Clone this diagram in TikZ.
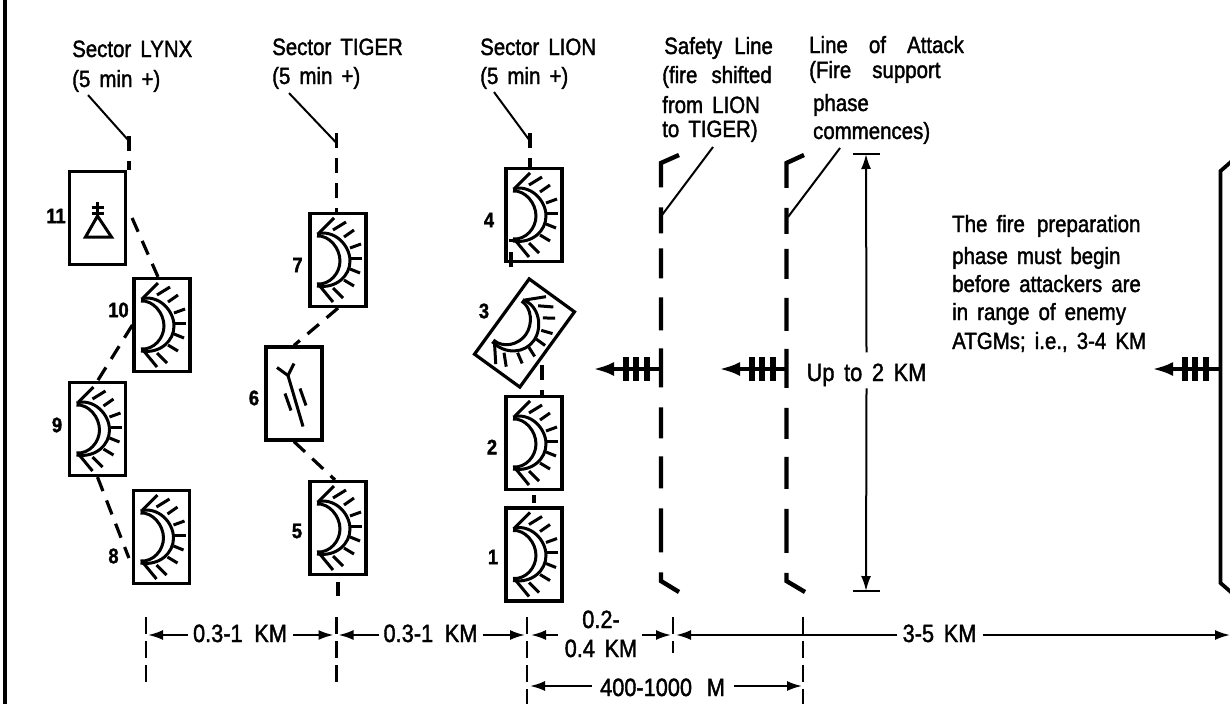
\documentclass[tikz,border=0pt]{standalone}
\usepackage{xcolor}
\usepackage{fontspec}
\setmainfont[FakeStretch=0.87,WordSpace=1.6,FakeBold=1.6]{Liberation Sans}
\usepackage{tikz}
\usetikzlibrary{arrows.meta,calc}

\begin{document}
\begin{tikzpicture}[
    x=1pt, y=-1pt,
    txt/.style={anchor=base west, inner sep=0pt, align=left, font=\fontsize{23.5}{29}\selectfont},
    dimtxt/.style={anchor=base, inner sep=0pt, align=center, font=\fontsize{25}{29}\selectfont},
    numtxt/.style={inner sep=0pt, font=\fontsize{21}{24}\selectfont\bfseries},
    posbox/.style={draw, line width=3.2pt, minimum width=56pt, minimum height=93pt, inner sep=0pt},
    sym/.style={line width=3pt},
    leader/.style={line width=2pt},
    dashline/.style={line width=3.2pt, dash pattern=on 15pt off 10pt},
    tickline/.style={line width=2.2pt, dash pattern=on 17pt off 7pt},
    fireline/.style={line width=4.4pt, line join=miter, dash pattern=on 44pt off 20pt on 26pt off 15pt on 30pt off 19pt on 33pt off 18pt on 39pt off 20pt on 31pt off 18pt on 32pt off 20pt on 44pt off 20pt},
    firearrow/.style={line width=4.2pt, -{Latex[length=21pt,width=14pt]}},
    dimarrow/.style={line width=2pt, -{Latex[length=15pt,width=10pt]}},
    bunker/.pic={
        \draw[sym] (-21,-24) .. controls (-9,-25) and (2,-12) .. (2,1) .. controls (2,13) and (-8,25) .. (-21,24);
        \draw[sym] (-21,-26) .. controls (-4,-31) and (12,-15) .. (12,1) .. controls (12,16) and (-2,29) .. (-21,26);
        \draw[sym] (-19,-27) -- (-4,-42);
        \draw[sym] (-5,-30) -- (8,-38);
        \draw[sym] (6,-23) -- (16,-30);
        \draw[sym] (12,-12) -- (23,-16);
        \draw[sym] (13,-2) -- (24,-2);
        \draw[sym] (12,9) -- (22,13);
        \draw[sym] (6,20) -- (16,26);
        \draw[sym] (-5,28) -- (5,38);
        \draw[sym] (-19,25) -- (-5,42);
    },
    firebars/.pic={
        \draw[line width=5.4pt] (-35,-12) -- (-35,12);
        \draw[line width=5.4pt] (-25,-12) -- (-25,12);
        \draw[line width=5.4pt] (-14,-12) -- (-14,12);
    },
]
\useasboundingbox (0,0) rectangle (1230,704);
% page rule
\coordinate (ruleTop) at (5,0);
\coordinate (ruleBot) at (5,704);
\draw[line width=3.6pt] (ruleTop) -- (ruleBot);

% sector headings
\node[txt] (sLynx)  at (72,87)  {Sector LYNX\\[1pt](5 min +)};
\node[txt] (sTiger) at (272,84) {Sector TIGER\\(5 min +)};
\node[txt] (sLion)  at (480,84) {Sector LION\\(5 min +)};
\node[txt] (safety) at (662,137) {\hspace{2pt}Safety\hspace{3pt} Line\\(fire\hspace{5pt} shifted\\[1pt]from LION\\[-5pt]to TIGER)};
\node[txt] (attack) at (809,139) {Line\hspace{12pt} of\hspace{12pt} Attack\\[-4pt](Fire\hspace{12pt} support\\[4pt]\,phase\\[-1pt]\,commences)};

% positions
\node[posbox] (b11) at (97.5,218) {};
\node[posbox] (b10) at (162,325) {};
\node[posbox] (b9)  at (97.5,429) {};
\node[posbox] (b8)  at (161.5,537) {};
\node[posbox] (b7)  at (338,260) {};
\node[posbox] (b6)  at (294,393.5) {};
\node[posbox] (b5)  at (338,528) {};
\node[posbox] (b4)  at (534,215) {};
\node[posbox, rotate=-36] (b3) at (524.5,333) {};
\node[posbox] (b2)  at (534,443) {};
\node[posbox] (b1)  at (534,554.5) {};

\pic at (b10) {bunker};
\pic at (b9)  {bunker};
\pic at (b8)  {bunker};
\pic at (b7)  {bunker};
\pic at (b5)  {bunker};
\pic at (b4)  {bunker};
\pic[rotate=-36] at (b3) {bunker};
\pic at (b2)  {bunker};
\pic at (b1)  {bunker};

% observation post in 11
\draw[sym] ($(b11)+(-12,19)$) -- ($(b11)+(14,19)$) -- ($(b11)+(0,-2)$) -- cycle;
\draw[sym] ($(b11)+(0,-16)$) -- ($(b11)+(0,-2)$);
\draw[sym] ($(b11)+(-6,-11)$) -- ($(b11)+(6,-11)$);
\draw[sym] ($(b11)+(-6,-5)$) -- ($(b11)+(6,-5)$);
% weapon in 6
\draw[sym] ($(b6)+(-17,-26)$) -- ($(b6)+(-6,-18)$) -- ($(b6)+(9,33)$);
\draw[sym] ($(b6)+(0,-30)$) -- ($(b6)+(-6,-18)$);
\draw[sym] ($(b6)+(-9,0)$) -- ($(b6)+(-3,17)$);
\draw[sym] ($(b6)+(6,-5)$) -- ($(b6)+(12,12)$);

% numbers
\node[numtxt] (n11) at (56,216) {11};
\node[numtxt] (n10) at (118.5,310) {10};
\node[numtxt] (n9)  at (57,425) {9};
\node[numtxt] (n8)  at (113.5,556) {8};
\node[numtxt] (n7)  at (297.5,265) {7};
\node[numtxt] (n6)  at (254,398) {6};
\node[numtxt] (n5)  at (297,531) {5};
\node[numtxt] (n4)  at (489,220) {4};
\node[numtxt] (n3)  at (484,311) {3};
\node[numtxt] (n2)  at (492,447) {2};
\node[numtxt] (n1)  at (493,557) {1};

% leaders from the headings
\coordinate (topLynx)  at (129,136);
\coordinate (topTiger) at (336.5,133);
\coordinate (topLion)  at (530,133);
\coordinate (hitSafety) at (662,215);
\coordinate (hitAttack) at (788,217);
\draw[leader] ($(sLynx.south west)+(16,3)$) -- (129,141);
\draw[leader] ($(sTiger.south west)+(17,4)$) -- (336.5,143);
\draw[leader] ($(sLion.south west)+(14,3)$) -- (530,141);
\draw[leader] ($(safety.south west)+(51,5)$) -- (hitSafety);
\draw[leader] ($(attack.south west)+(31,4)$) -- (hitAttack);

% dashed links
\draw[dashline] (topLynx) -- (topLynx |- b11.north);
\draw[dashline] (topTiger) -- (topTiger |- b7.north);
\draw[dashline] (topLion) -- (topLion |- b4.north);
\draw[dashline] ([xshift=5pt]b11.east) -- ([xshift=-4pt]b10.north);
\draw[dashline] (b10.west) -- (b9.north);
\draw[dashline] (b9.south) -- ($(b8.west)+(-3,21)$);
\draw[dashline] (b7.south) -- (b6.north);
\draw[dashline] (b6.south) -- ([xshift=-3pt]b5.north);
\draw[dashline] ([xshift=-23pt,yshift=-4pt]b4.south) -- ++(0,-28);
\draw[dashline] ([xshift=8pt,yshift=30pt]b2.north) -- ([xshift=8pt]b2.north);
\draw[dashline] ([yshift=-4pt]b2.south) -- ([yshift=3pt]b1.north);
\draw[dashline] ([yshift=-6pt]b5.south) -- ([yshift=-20pt]b5.south);

% fire lines
\coordinate (fireSafety) at (661,369);
\coordinate (fireAttack) at (787,369);
\coordinate (fireEnemy)  at (1220,369);
\draw[fireline] (679,155) -- (661,163) -- (661,581) -- (679,592);
\draw[fireline] (804,155) -- (786.5,163) -- (786.5,581) -- (805,592);
\draw[line width=3.8pt] (1232,161) -- (1220.5,171) -- (1220.5,583) -- (1232,593);
\coordinate (tipSafety) at ($(fireSafety)+(-68,0)$);
\coordinate (tipAttack) at ($(fireAttack)+(-68,0)$);
\coordinate (tipEnemy)  at ($(fireEnemy)+(-68,0)$);
\draw[firearrow] (fireSafety) -- (tipSafety);
\draw[firearrow] (fireAttack) -- (tipAttack);
\draw[firearrow] (fireEnemy) -- (tipEnemy);
\pic at (fireSafety) {firebars};
\pic at (fireAttack) {firebars};
\pic at (fireEnemy)  {firebars};

% depth of the zone
\coordinate (spanTop) at (866,154);
\coordinate (spanBot) at (866,591);
\node[dimtxt] (spanLabel) at (866.5,381) {Up to 2 KM};
\draw[line width=2.4pt] ($(spanTop)+(-13.5,0)$) -- ($(spanTop)+(13.5,0)$);
\draw[line width=2.4pt] ($(spanBot)+(-13.5,0)$) -- ($(spanBot)+(13.5,0)$);
\draw[dimarrow] ([yshift=11pt]spanLabel.north) -- (spanTop);
\draw[dimarrow] ([yshift=-2pt]spanLabel.south) -- (spanBot);

\node[txt] (note) at (952,349) {The fire\hspace{3pt} preparation\\[3pt]phase must begin\\[-1pt]before attackers are\\[-1pt]in range of enemy\\ATGMs; i.e., 3-4 KM};

% distances
\coordinate (tA) at (146,635);
\coordinate (tB) at (336.5,635);
\coordinate (tC) at (527,635);
\coordinate (tD) at (673,635);
\coordinate (tE) at (803,635);
\coordinate (tF) at (1230,635);
\draw[tickline] ($(tA)+(0,-18)$) -- ($(tA)+(0,50)$);
\draw[tickline] ($(tB)+(0,-18)$) -- ($(tB)+(0,50)$);
\draw[tickline] ($(tC)+(0,-18)$) -- ($(tC)+(0,69)$);
\draw[tickline] ($(tD)+(0,-18)$) -- ($(tD)+(0,18)$);
\draw[tickline] ($(tE)+(0,-18)$) -- ($(tE)+(0,69)$);

\node[dimtxt] (dA) at (240,642) {0.3-1\hspace{2pt} KM};
\node[dimtxt] (dB) at (430.5,642) {0.3-1\hspace{2pt} KM};
\node[dimtxt] (dC) at (601,657) {0.2-\\0.4 KM};
\node[dimtxt] (dD) at (939.5,642) {3-5 KM};
\node[dimtxt] (dE) at (662.5,696) {400-1000\hspace{5pt} M};
\coordinate (tG) at (527,686);
\coordinate (tH) at (803,686);

\draw[dimarrow] ($(dA.west |- tA)+(-5,0)$) -- ($(tA)+(2,0)$);
\draw[dimarrow] ($(dA.east |- tA)+(6,0)$) -- ($(tB)+(-3,0)$);
\draw[dimarrow] ($(dB.west |- tB)+(-4,0)$) -- ($(tB)+(2,0)$);
\draw[dimarrow] ($(dB.east |- tB)+(5,0)$) -- ($(tC)+(-2,0)$);
\draw[dimarrow] ($(dC.west |- tC)+(-7,0)$) -- ($(tC)+(4,0)$);
\draw[dimarrow] ($(dC.east |- tC)+(5,0)$) -- ($(tD)+(-2,0)$);
\draw[dimarrow] ($(dD.west |- tD)+(-5,0)$) -- ($(tD)+(3,0)$);
\draw[dimarrow] ($(dD.east |- tD)+(6,0)$) -- (tF);
\draw[dimarrow] ($(dE.west |- tG)+(-8,0)$) -- ($(tG)+(3,0)$);
\draw[dimarrow] ($(dE.east |- tG)+(9,0)$) -- ($(tH)+(-1,0)$);
\end{tikzpicture}
\end{document}
